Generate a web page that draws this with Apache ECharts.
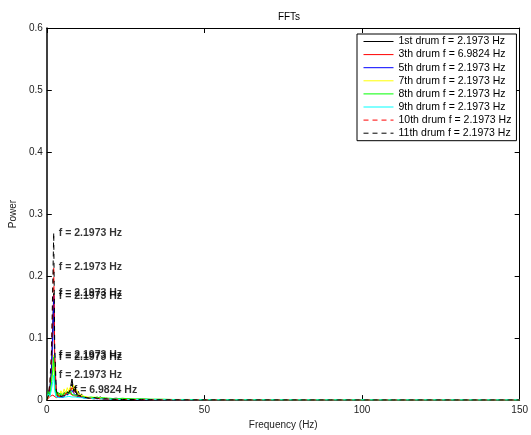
<!DOCTYPE html>
<html>
<head>
<meta charset="utf-8">
<script src="https://cdn.jsdelivr.net/npm/echarts@6/dist/echarts.min.js"></script>
<style>
html,body{margin:0;padding:0;background:#fff;}
#chart{width:531px;height:435px;}
</style>
</head>
<body>
<div id="chart"></div>
<script>
// Frequency bins (Hz)
var freq = [0, 0.5, 1.0, 1.5, 1.9, 2.1973, 2.5, 3.0, 3.5, 4.0,
            4.5, 5.0, 5.5, 6.0, 6.5, 6.9824, 7.5, 8.0, 8.5, 9.0,
            9.5, 10, 10.5, 11, 11.5, 12, 12.5, 13, 13.5, 14,
            15, 16, 17, 18, 19, 20, 22, 24, 26, 28,
            30, 33, 36, 40, 45, 50, 60, 75, 90, 110,
            130, 150];

var drum1 = [0, 0.008, 0.02, 0.05, 0.12, 0.172, 0.06, 0.012, 0.006, 0.011,
             0.004, 0.009, 0.006, 0.013, 0.008, 0.012, 0.02, 0.034, 0.015, 0.022,
             0.009, 0.014, 0.006, 0.01, 0.005, 0.008, 0.004, 0.007, 0.003, 0.005,
             0.004, 0.003, 0.005, 0.002, 0.003, 0.002, 0.003, 0.0015, 0.002, 0.001,
             0.0015, 0.001, 0.0008, 0.0006, 0.0005, 0.0004, 0.0003, 0.0002, 0.0002, 0.0001,
             0.0001, 0.0001];
var drum3 = [0, 0.003, 0.006, 0.005, 0.008, 0.009, 0.006, 0.004, 0.007, 0.005,
             0.008, 0.006, 0.01, 0.008, 0.012, 0.016, 0.01, 0.012, 0.007, 0.009,
             0.006, 0.008, 0.005, 0.006, 0.004, 0.005, 0.003, 0.004, 0.003, 0.003,
             0.002, 0.003, 0.002, 0.002, 0.0015, 0.001, 0.0012, 0.001, 0.001, 0.0008,
             0.0007, 0.0006, 0.0005, 0.0004, 0.0003, 0.0003, 0.0002, 0.0002, 0.0001, 0.0001,
             0.0001, 0.0001];
var drum5 = [0, 0.006, 0.018, 0.045, 0.11, 0.168, 0.055, 0.01, 0.005, 0.008,
             0.004, 0.007, 0.005, 0.009, 0.006, 0.01, 0.013, 0.016, 0.011, 0.013,
             0.007, 0.009, 0.005, 0.007, 0.004, 0.006, 0.003, 0.005, 0.003, 0.004,
             0.003, 0.002, 0.003, 0.002, 0.002, 0.0015, 0.0015, 0.001, 0.001, 0.0008,
             0.0007, 0.0006, 0.0005, 0.0004, 0.0003, 0.0003, 0.0002, 0.0002, 0.0001, 0.0001,
             0.0001, 0.0001];
var drum7 = [0, 0.005, 0.01, 0.025, 0.05, 0.073, 0.03, 0.008, 0.012, 0.007,
             0.015, 0.009, 0.018, 0.011, 0.02, 0.014, 0.022, 0.016, 0.024, 0.013,
             0.017, 0.01, 0.012, 0.008, 0.01, 0.006, 0.008, 0.005, 0.007, 0.004,
             0.005, 0.003, 0.004, 0.003, 0.003, 0.002, 0.002, 0.0015, 0.0015, 0.001,
             0.001, 0.0008, 0.0007, 0.0006, 0.0005, 0.0004, 0.0003, 0.0002, 0.0002, 0.0001,
             0.0001, 0.0001];
var drum8 = [0, 0.015, 0.008, 0.03, 0.05, 0.069, 0.025, 0.007, 0.013, 0.006,
             0.011, 0.007, 0.012, 0.008, 0.014, 0.01, 0.015, 0.009, 0.012, 0.008,
             0.011, 0.007, 0.009, 0.006, 0.008, 0.005, 0.007, 0.004, 0.006, 0.005,
             0.004, 0.005, 0.003, 0.004, 0.003, 0.003, 0.002, 0.003, 0.002, 0.002,
             0.002, 0.0015, 0.0015, 0.001, 0.001, 0.0008, 0.0006, 0.0005, 0.0004, 0.0003,
             0.0003, 0.0002];
var drum9 = [0, 0.01, 0.006, 0.018, 0.03, 0.04, 0.015, 0.005, 0.007, 0.004,
             0.006, 0.005, 0.007, 0.005, 0.008, 0.006, 0.007, 0.005, 0.008, 0.005,
             0.006, 0.004, 0.005, 0.004, 0.005, 0.003, 0.004, 0.003, 0.003, 0.003,
             0.002, 0.003, 0.002, 0.002, 0.002, 0.0015, 0.0015, 0.001, 0.001, 0.001,
             0.0008, 0.0007, 0.0006, 0.0005, 0.0004, 0.0004, 0.0003, 0.0003, 0.0002, 0.0002,
             0.0002, 0.0002];
var drum10 = [0, 0.007, 0.025, 0.065, 0.15, 0.215, 0.075, 0.014, 0.007, 0.01,
              0.005, 0.008, 0.006, 0.011, 0.008, 0.011, 0.015, 0.02, 0.012, 0.016,
              0.008, 0.011, 0.006, 0.008, 0.005, 0.007, 0.004, 0.005, 0.003, 0.004,
              0.003, 0.003, 0.002, 0.002, 0.002, 0.0015, 0.0012, 0.001, 0.001, 0.0008,
              0.0007, 0.0006, 0.0005, 0.0004, 0.0003, 0.0003, 0.0002, 0.0002, 0.0001, 0.0001,
              0.0001, 0.0001];
var drum11 = [0, 0.008, 0.03, 0.08, 0.19, 0.27, 0.09, 0.016, 0.008, 0.011,
              0.006, 0.009, 0.007, 0.012, 0.009, 0.012, 0.017, 0.026, 0.014, 0.018,
              0.009, 0.012, 0.007, 0.009, 0.005, 0.007, 0.004, 0.006, 0.003, 0.005,
              0.004, 0.003, 0.002, 0.002, 0.002, 0.0015, 0.0012, 0.001, 0.001, 0.0008,
              0.0007, 0.0006, 0.0005, 0.0004, 0.0003, 0.0003, 0.0002, 0.0002, 0.0001, 0.0001,
              0.0001, 0.0001];

var drumNames = ['1st drum', '3th drum', '5th drum', '7th drum', '8th drum', '9th drum', '10th drum', '11th drum'];
var drumValues = [drum1, drum3, drum5, drum7, drum8, drum9, drum10, drum11];
var peakFreq = [2.1973, 6.9824, 2.1973, 2.1973, 2.1973, 2.1973, 2.1973, 2.1973];
var peakPower = [0.172, 0.016, 0.168, 0.073, 0.069, 0.040, 0.215, 0.270];
var drumColors = ['#000000', '#ff0000', '#0000ff', '#ffff00', '#00ff00', '#00ffff', '#ff0000', '#000000'];
var drumDash = ['solid', 'solid', 'solid', 'solid', 'solid', 'solid', 'dashed', 'dashed'];

var xTicks = [0, 50, 100, 150];
var yTicks = [0, 0.1, 0.2, 0.3, 0.4, 0.5, 0.6];

var FONT = '"Liberation Sans", Arial, Helvetica, sans-serif';

function fmtHz(f) { return 'f = ' + f.toFixed(4) + ' Hz'; }

var series = [];
var legendNames = [];
for (var i = 0; i < drumNames.length; i++) {
  var nm = drumNames[i] + ' ' + fmtHz(peakFreq[i]);
  legendNames.push(nm);
  var pts = [];
  for (var j = 0; j < freq.length; j++) pts.push([freq[j], drumValues[i][j]]);
  series.push({
    name: nm,
    type: 'line',
    data: pts,
    symbol: 'none',
    showSymbol: false,
    silent: true,
    animation: false,
    lineStyle: { color: drumColors[i], width: 1, type: drumDash[i] === 'dashed' ? [5, 4] : 'solid' },
    itemStyle: { color: drumColors[i] },
    z: 2 + i
  });
}
var labelPts = [];
for (var k = 0; k < peakFreq.length; k++) {
  labelPts.push({ value: [peakFreq[k], peakPower[k]], name: fmtHz(peakFreq[k]) });
}
series.push({
  name: 'peaks',
  type: 'scatter',
  data: labelPts,
  symbolSize: 0,
  silent: true,
  animation: false,
  z: 20,
  label: {
    show: true,
    position: 'right',
    distance: 5,
    formatter: function (p) { return p.name; },
    color: '#000',
    fontFamily: FONT,
    fontWeight: 'bold',
    fontSize: 10.5
  }
});

var tickLabelStyle = { color: '#222', fontFamily: FONT, fontSize: 10 };

var chart = echarts.init(document.getElementById('chart'), null, { renderer: 'canvas' });
chart.setOption({
  animation: false,
  backgroundColor: '#fff',
  title: {
    text: 'FFTs',
    left: 284,
    textAlign: 'center',
    top: 7,
    textStyle: { color: '#000', fontFamily: FONT, fontSize: 10, fontWeight: 'normal' }
  },
  grid: { left: 46, right: 9, top: 28, bottom: 31, containLabel: false },
  legend: {
    data: legendNames,
    orient: 'vertical',
    left: 357,
    top: 34,
    itemWidth: 30,
    itemHeight: 10,
    itemGap: 2.1,
    padding: [2, 5, 2, 6],
    backgroundColor: '#fff',
    borderColor: '#000',
    borderWidth: 1,
    selectedMode: false,
    itemStyle: { opacity: 0 },
    lineStyle: { width: 1 },
    textStyle: { color: '#000', fontFamily: FONT, fontSize: 10.5 }
  },
  xAxis: [{
    type: 'value',
    min: 0, max: 150, interval: 50,
    position: 'bottom',
    name: 'Frequency (Hz)',
    nameLocation: 'middle',
    nameGap: 18,
    nameTextStyle: { color: '#222', fontFamily: FONT, fontSize: 10, verticalAlign: 'top' },
    axisLine: { show: true, onZero: false, lineStyle: { color: '#000', width: 1 } },
    axisTick: { show: true, inside: true, length: 5, lineStyle: { color: '#000' } },
    axisLabel: Object.assign({ margin: 5, formatter: function (v) { return xTicks.indexOf(v) >= 0 ? String(v) : ''; } }, tickLabelStyle),
    splitLine: { show: false }
  }, {
    type: 'value',
    min: 0, max: 150, interval: 50,
    position: 'top',
    axisLine: { show: true, onZero: false, lineStyle: { color: '#000', width: 1 } },
    axisTick: { show: true, inside: true, length: 5, lineStyle: { color: '#000' } },
    axisLabel: { show: false },
    splitLine: { show: false }
  }],
  yAxis: [{
    type: 'value',
    min: 0, max: 0.6, interval: 0.1,
    position: 'left',
    name: 'Power',
    nameLocation: 'middle',
    nameGap: 25,
    nameRotate: 90,
    nameTextStyle: { color: '#222', fontFamily: FONT, fontSize: 10 },
    axisLine: { show: true, onZero: false, lineStyle: { color: '#000', width: 1.5 } },
    axisTick: { show: true, inside: true, length: 5, lineStyle: { color: '#000' } },
    axisLabel: Object.assign({ margin: 4, formatter: function (v) {
      for (var t = 0; t < yTicks.length; t++) { if (Math.abs(yTicks[t] - v) < 1e-9) return String(yTicks[t]); }
      return '';
    } }, tickLabelStyle),
    splitLine: { show: false }
  }, {
    type: 'value',
    min: 0, max: 0.6, interval: 0.1,
    position: 'right',
    axisLine: { show: true, onZero: false, lineStyle: { color: '#000', width: 1 } },
    axisTick: { show: true, inside: true, length: 5, lineStyle: { color: '#000' } },
    axisLabel: { show: false },
    splitLine: { show: false }
  }],
  series: series
});
</script>
</body>
</html>
